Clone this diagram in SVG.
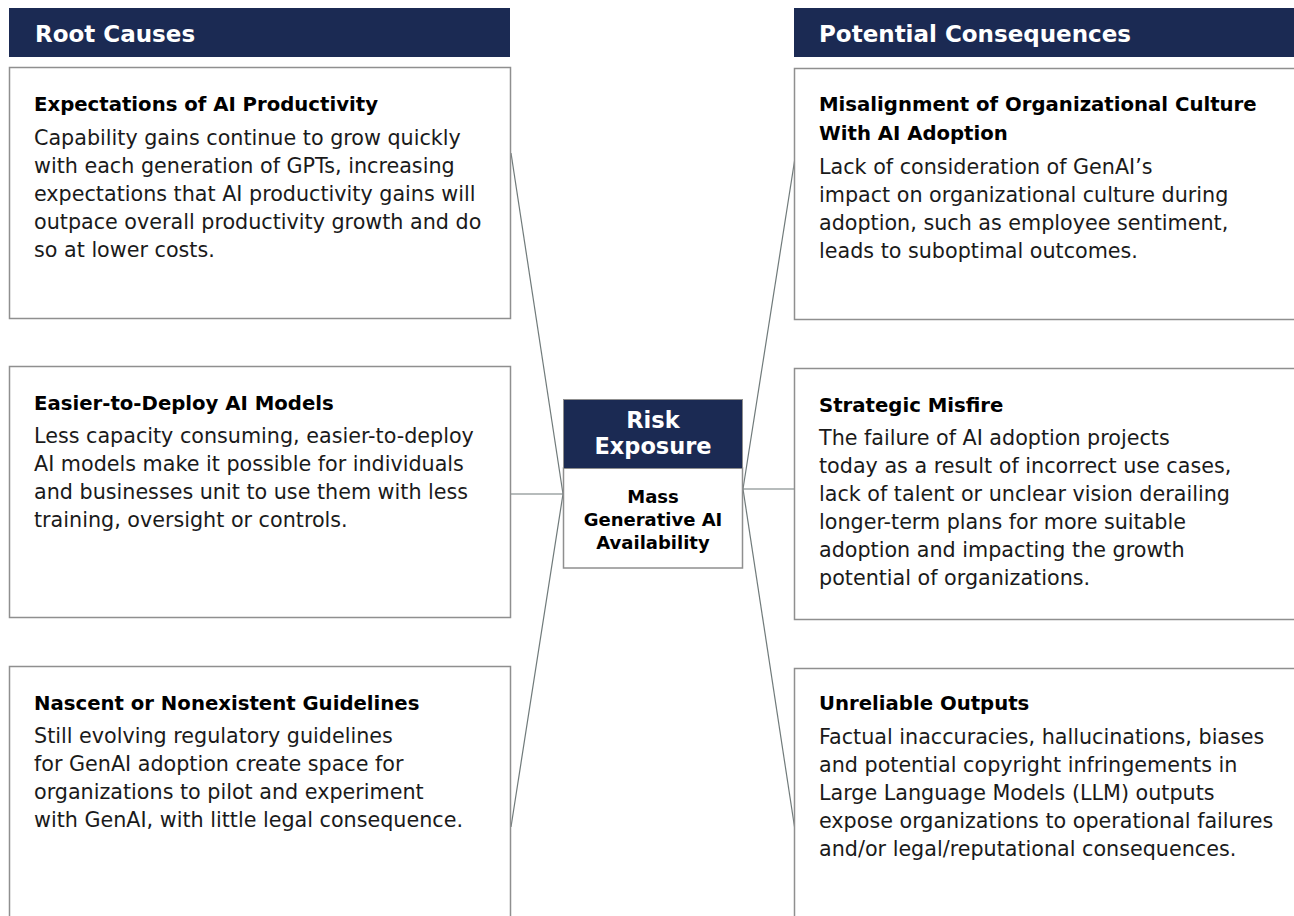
<svg xmlns="http://www.w3.org/2000/svg" width="1294" height="916" viewBox="0 0 1294 916">
<style>
.hdr{fill:#1b2a53}
.hdrt{font-family:"DejaVu Sans",sans-serif;font-weight:bold;font-size:23px;fill:#fff}
.box{fill:#fff;stroke:#8f8f8f;stroke-width:1.5}
.ttl{font-family:"DejaVu Sans",sans-serif;font-weight:bold;font-size:19.7px;fill:#000}
.body{font-family:"DejaVu Sans",sans-serif;font-size:20.7px;fill:#1a1a1a}
.conn{stroke:#707a7a;stroke-width:1.2;fill:none}
.ctop{font-family:"DejaVu Sans",sans-serif;font-weight:bold;font-size:22.5px;fill:#fff;text-anchor:middle}
.cbot{font-family:"DejaVu Sans",sans-serif;font-weight:bold;font-size:18px;fill:#000;text-anchor:middle}
</style>
<rect width="1294" height="916" fill="#fff"/>
<g id="connectors">
<line class="conn" x1="511" y1="153" x2="563" y2="494"/>
<line class="conn" x1="510" y1="494" x2="563" y2="494"/>
<line class="conn" x1="563" y1="494" x2="511" y2="827"/>
<line class="conn" x1="743" y1="489" x2="795" y2="158"/>
<line class="conn" x1="743" y1="489" x2="795" y2="489"/>
<line class="conn" x1="743" y1="489" x2="795" y2="830"/>
</g>
<g id="header-root">
<rect class="hdr" x="9" y="8" width="501" height="49"/>
<text class="hdrt" x="35" y="42">Root Causes</text>
</g>
<g id="header-consequences">
<rect class="hdr" x="794" y="8" width="500" height="49"/>
<text class="hdrt" x="819" y="42">Potential Consequences</text>
</g>
<g id="cause-1">
<rect class="box" x="9.5" y="67.5" width="501" height="251"/>
<text class="ttl" x="34" y="111">Expectations of AI Productivity</text>
<text class="body" x="34" y="144.5">Capability gains continue to grow quickly</text>
<text class="body" x="34" y="172.5">with each generation of GPTs, increasing</text>
<text class="body" x="34" y="200.5">expectations that AI productivity gains will</text>
<text class="body" x="34" y="228.5">outpace overall productivity growth and do</text>
<text class="body" x="34" y="256.5">so at lower costs.</text>
</g>
<g id="cause-2">
<rect class="box" x="9.5" y="366.5" width="501" height="251"/>
<text class="ttl" x="34" y="409.5">Easier-to-Deploy AI Models</text>
<text class="body" x="34" y="442.5">Less capacity consuming, easier-to-deploy</text>
<text class="body" x="34" y="470.5">AI models make it possible for individuals</text>
<text class="body" x="34" y="498.5">and businesses unit to use them with less</text>
<text class="body" x="34" y="526.5">training, oversight or controls.</text>
</g>
<g id="cause-3">
<rect class="box" x="9.5" y="666.5" width="501" height="300"/>
<text class="ttl" x="34" y="709.5">Nascent or Nonexistent Guidelines</text>
<text class="body" x="34" y="742.5">Still evolving regulatory guidelines</text>
<text class="body" x="34" y="770.5">for GenAI adoption create space for</text>
<text class="body" x="34" y="798.5">organizations to pilot and experiment</text>
<text class="body" x="34" y="826.5">with GenAI, with little legal consequence.</text>
</g>
<g id="consequence-1">
<rect class="box" x="794.5" y="68.5" width="520" height="251"/>
<text class="ttl" x="819" y="110.5">Misalignment of Organizational Culture</text>
<text class="ttl" x="819" y="139.5">With AI Adoption</text>
<text class="body" x="819" y="173.5">Lack of consideration of GenAI’s</text>
<text class="body" x="819" y="201.5">impact on organizational culture during</text>
<text class="body" x="819" y="229.5">adoption, such as employee sentiment,</text>
<text class="body" x="819" y="257.5">leads to suboptimal outcomes.</text>
</g>
<g id="consequence-2">
<rect class="box" x="794.5" y="368.5" width="520" height="251"/>
<text class="ttl" x="819" y="411.5">Strategic Misfire</text>
<text class="body" x="819" y="444.5">The failure of AI adoption projects</text>
<text class="body" x="819" y="472.5">today as a result of incorrect use cases,</text>
<text class="body" x="819" y="500.5">lack of talent or unclear vision derailing</text>
<text class="body" x="819" y="528.5">longer-term plans for more suitable</text>
<text class="body" x="819" y="556.5">adoption and impacting the growth</text>
<text class="body" x="819" y="584.5">potential of organizations.</text>
</g>
<g id="consequence-3">
<rect class="box" x="794.5" y="668.5" width="520" height="300"/>
<text class="ttl" x="819" y="710">Unreliable Outputs</text>
<text class="body" x="819" y="744">Factual inaccuracies, hallucinations, biases</text>
<text class="body" x="819" y="772">and potential copyright infringements in</text>
<text class="body" x="819" y="800">Large Language Models (LLM) outputs</text>
<text class="body" x="819" y="828">expose organizations to operational failures</text>
<text class="body" x="819" y="856">and/or legal/reputational consequences.</text>
</g>
<g id="risk-exposure">
<rect x="563.5" y="468" width="179" height="100" fill="#fff" stroke="#8f8f8f" stroke-width="1.5"/>
<rect x="563.5" y="399.5" width="179" height="69" fill="#1b2a53" stroke="#8f8f8f" stroke-width="1"/>
<text class="ctop" x="653" y="428">Risk</text>
<text class="ctop" x="653" y="454">Exposure</text>
<text class="cbot" x="653" y="503">Mass</text>
<text class="cbot" x="653" y="526">Generative AI</text>
<text class="cbot" x="653" y="549">Availability</text>
</g>
</svg>
